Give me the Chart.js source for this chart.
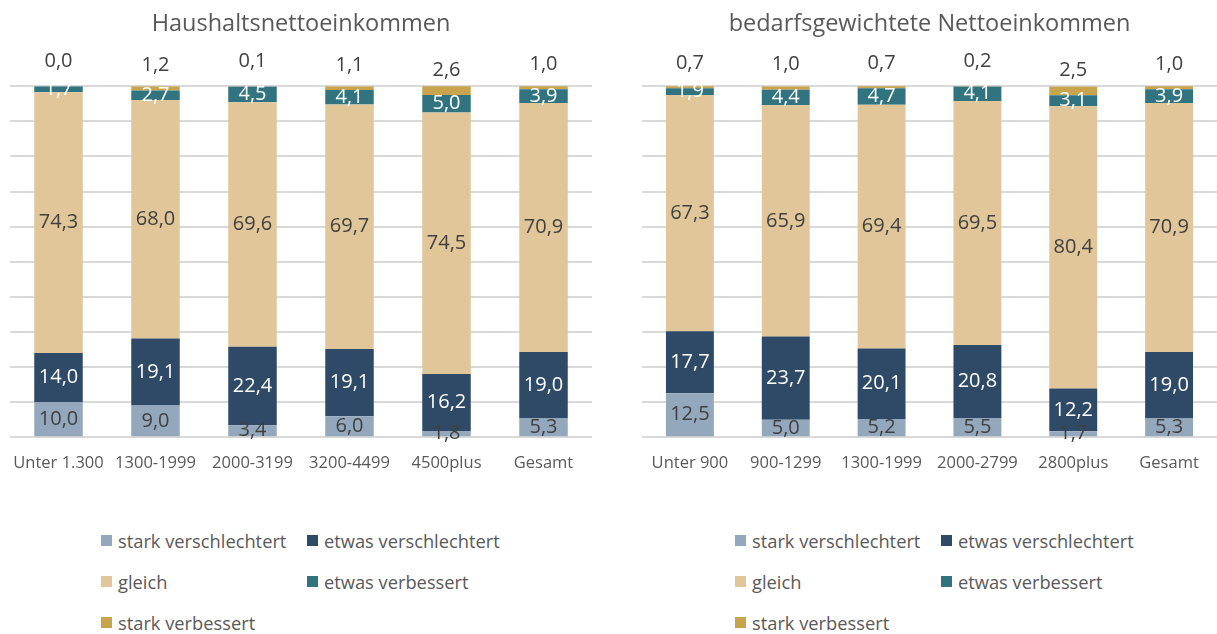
<!DOCTYPE html>
<html>
<head>
<meta charset="utf-8">
<script src="https://cdn.jsdelivr.net/npm/chart.js@4"></script>
<style>
  body { margin: 0; background: #fff; width: 1217px; height: 634px; position: relative; overflow: hidden; font-family: 'Open Sans', sans-serif; }
  .box { position: absolute; top: 0; height: 493px; }
  .legend { position: absolute; top: 528px; display: grid; grid-template-columns: 206px 206px; row-gap: 16px; }
  .legend div { display: flex; align-items: center; font-size: 18.3px; color: #595959; height: 25px; white-space: nowrap; }
  .legend span { display: inline-block; width: 11px; height: 11px; margin-right: 6px; }
</style>
</head>
<body>
<div class="box" style="left:0;width:592px"><canvas id="left-chart"></canvas></div>
<div class="box" style="left:632px;width:585px"><canvas id="right-chart"></canvas></div>
<div class="legend" id="legend-left" style="left:101px"></div>
<div class="legend" id="legend-right" style="left:735px"></div>
<script>
const seriesNames = ['stark verschlechtert', 'etwas verschlechtert', 'gleich', 'etwas verbessert', 'stark verbessert'];
const seriesColors = ['#93A8BC', '#2F4A66', '#E0C699', '#317480', '#C9A44F'];
const labelColors = ['#404040', '#ffffff', '#404040', '#ffffff', '#404040'];

// Haushaltsnettoeinkommen
const hhCategories = ['Unter 1.300', '1300-1999', '2000-3199', '3200-4499', '4500plus', 'Gesamt'];
const hhStarkVerschl = [10.0, 9.0, 3.4, 6.0, 1.8, 5.3];
const hhEtwasVerschl = [14.0, 19.1, 22.4, 19.1, 16.2, 19.0];
const hhGleich = [74.3, 68.0, 69.6, 69.7, 74.5, 70.9];
const hhEtwasVerb = [1.7, 2.7, 4.5, 4.1, 5.0, 3.9];
const hhStarkVerb = [0.0, 1.2, 0.1, 1.1, 2.6, 1.0];

// bedarfsgewichtete Nettoeinkommen
const bwCategories = ['Unter 900', '900-1299', '1300-1999', '2000-2799', '2800plus', 'Gesamt'];
const bwStarkVerschl = [12.5, 5.0, 5.2, 5.5, 1.7, 5.3];
const bwEtwasVerschl = [17.7, 23.7, 20.1, 20.8, 12.2, 19.0];
const bwGleich = [67.3, 65.9, 69.4, 69.5, 80.4, 70.9];
const bwEtwasVerb = [1.9, 4.4, 4.7, 4.1, 3.1, 3.9];
const bwStarkVerb = [0.7, 1.0, 0.7, 0.2, 2.5, 1.0];

const yTicks = [0, 10, 20, 30, 40, 50, 60, 70, 80, 90, 100];

const fmt = v => v.toFixed(1).replace('.', ',');

const segmentLabels = {
  id: 'segmentLabels',
  afterDatasetsDraw(chart) {
    const ctx = chart.ctx;
    ctx.save();
    ctx.font = '20px "Open Sans"';
    ctx.textAlign = 'center';
    ctx.textBaseline = 'middle';
    const last = chart.data.datasets.length - 1;
    chart.data.datasets.forEach((ds, i) => {
      const meta = chart.getDatasetMeta(i);
      meta.data.forEach((bar, j) => {
        const p = bar.getProps(['x', 'y', 'base'], true);
        ctx.fillStyle = labelColors[i];
        const y = i === last ? p.base - 25 : (p.y + p.base) / 2;
        ctx.fillText(fmt(ds.data[j]), p.x, y);
      });
    });
    ctx.restore();
  }
};

function makeChart(id, title, categories, series) {
  new Chart(document.getElementById(id), {
    type: 'bar',
    data: {
      labels: categories,
      datasets: series.map((data, i) => ({
        label: seriesNames[i],
        data: data,
        backgroundColor: seriesColors[i],
        barPercentage: 0.5,
        categoryPercentage: 1,
      })),
    },
    options: {
      responsive: true,
      maintainAspectRatio: false,
      animation: false,
      layout: { padding: { left: 10, right: 0, top: 0, bottom: 12 } },
      plugins: {
        legend: { display: false },
        tooltip: { enabled: false },
        title: {
          display: true,
          text: title,
          fullSize: false,
          color: '#595959',
          font: { family: 'Open Sans', size: 23.5, weight: 'normal' },
          padding: { top: 10, bottom: 48 },
        },
      },
      scales: {
        x: {
          stacked: true,
          grid: { display: false },
          border: { display: false },
          ticks: { color: '#595959', font: { family: 'Open Sans', size: 16.5 }, padding: 8, maxRotation: 0, autoSkip: false },
        },
        y: {
          stacked: true,
          min: 0,
          max: 100,
          afterBuildTicks: axis => { axis.ticks = yTicks.map(v => ({ value: v })); },
          ticks: { display: false },
          grid: { color: '#d9d9d9', lineWidth: 2, drawTicks: false },
          border: { display: false },
        },
      },
    },
    plugins: [segmentLabels],
  });
}

function makeLegend(id) {
  const el = document.getElementById(id);
  seriesNames.forEach((name, i) => {
    const item = document.createElement('div');
    item.innerHTML = '<span style="background:' + seriesColors[i] + '"></span>' + name;
    el.appendChild(item);
  });
}

makeChart('left-chart', 'Haushaltsnettoeinkommen', hhCategories,
  [hhStarkVerschl, hhEtwasVerschl, hhGleich, hhEtwasVerb, hhStarkVerb]);
makeChart('right-chart', 'bedarfsgewichtete Nettoeinkommen', bwCategories,
  [bwStarkVerschl, bwEtwasVerschl, bwGleich, bwEtwasVerb, bwStarkVerb]);
makeLegend('legend-left');
makeLegend('legend-right');
</script>
</body>
</html>
